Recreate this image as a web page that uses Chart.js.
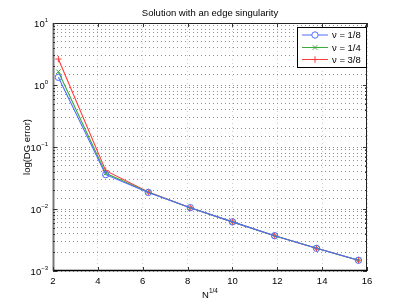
<!DOCTYPE html>
<html><head><meta charset="utf-8">
<script src="https://cdn.jsdelivr.net/npm/chart.js@4"></script>
<style>html,body{margin:0;padding:0;background:#fff}#wrap{width:407px;height:306px}</style>
</head><body><div id="wrap"><canvas id="c" width="407" height="306"></canvas></div>
<script>
const xValues = [2.24, 4.35, 6.25, 8.12, 10.0, 11.88, 13.75, 15.62];
const errNu18 = [1.33, 0.0358, 0.0185, 0.0105, 0.0062, 0.00371, 0.00232, 0.00149];
const errNu14 = [1.64, 0.0377, 0.0186, 0.0105, 0.0062, 0.00371, 0.00232, 0.00149];
const errNu38 = [2.62, 0.0415, 0.0188, 0.0105, 0.0062, 0.00371, 0.00232, 0.00149];
const seriesLabels = ['ν = 1/8', 'ν = 1/4', 'ν = 3/8'];
const xTicks = [2, 4, 6, 8, 10, 12, 14, 16];
const yDecades = [1, 0, -1, -2, -3];
const titleText = 'Solution with an edge singularity';

const FONT = '"Liberation Sans", Arial, sans-serif';
const colors = ['#4f6dff', '#3cab3c', '#ff3b3b'];
const styles = ['circle', 'crossRot', 'cross'];
const allSeries = [errNu18, errNu14, errNu38];

const datasets = allSeries.map((s, i) => ({
  label: seriesLabels[i],
  data: xValues.map((x, j) => ({x, y: s[j]})),
  borderColor: colors[i], backgroundColor: 'transparent',
  pointBorderColor: colors[i], pointBackgroundColor: 'transparent',
  pointStyle: styles[i], pointRadius: 3.2, pointBorderWidth: 1,
  borderWidth: 1.1, tension: 0
}));

const deco = {
  id: 'deco',
  afterDraw(chart) {
    const ctx = chart.ctx, a = chart.chartArea;
    const xs = chart.scales.x, ys = chart.scales.y;
    ctx.save();
    // box
    ctx.strokeStyle = '#222'; ctx.lineWidth = 1;
    ctx.strokeRect(a.left + 0.5, a.top + 0.5, a.right - a.left - 1, a.bottom - a.top - 1);
    ctx.strokeStyle = '#777'; ctx.lineWidth = 2;
    ctx.beginPath(); ctx.moveTo(a.left + 0.5, a.top); ctx.lineTo(a.left + 0.5, a.bottom); ctx.stroke();
    ctx.strokeStyle = '#000'; ctx.lineWidth = 1.5;
    ctx.beginPath(); ctx.moveTo(a.left, a.bottom - 0.5); ctx.lineTo(a.right, a.bottom - 0.5); ctx.stroke();
    // ticks
    ctx.strokeStyle = '#333'; ctx.lineWidth = 1;
    ctx.beginPath();
    xTicks.forEach(v => {
      const px = Math.round(xs.getPixelForValue(v)) + 0.5;
      ctx.moveTo(px, a.bottom); ctx.lineTo(px, a.bottom - 4);
      ctx.moveTo(px, a.top); ctx.lineTo(px, a.top + 4);
    });
    for (let d = -3; d < 1; d++) {
      for (let m = 1; m <= 9; m++) {
        const v = m * Math.pow(10, d);
        const py = Math.round(ys.getPixelForValue(v)) + 0.5;
        const len = m === 1 ? 4 : 2;
        ctx.moveTo(a.left, py); ctx.lineTo(a.left + len, py);
        ctx.moveTo(a.right, py); ctx.lineTo(a.right - len, py);
      }
    }
    ctx.stroke();
    // x tick labels
    ctx.fillStyle = '#000';
    ctx.font = '9.5px ' + FONT;
    ctx.textAlign = 'center'; ctx.textBaseline = 'top';
    xTicks.forEach(v => ctx.fillText(String(v), xs.getPixelForValue(v), a.bottom + 6));
    // y tick labels 10^n
    yDecades.forEach(d => {
      const py = ys.getPixelForValue(Math.pow(10, d));
      const exp = d < 0 ? '−' + (-d) : String(d);
      ctx.font = '6px ' + FONT;
      const ew = ctx.measureText(exp).width;
      ctx.textAlign = 'left'; ctx.textBaseline = 'alphabetic';
      const right = a.left - 5;
      ctx.fillText(exp, right - ew, py - 1);
      ctx.font = '9.5px ' + FONT;
      ctx.textAlign = 'right';
      ctx.fillText('10', right - ew, py + 4);
    });
    // title
    ctx.font = '9.5px ' + FONT;
    ctx.textAlign = 'center'; ctx.textBaseline = 'alphabetic';
    ctx.fillText(titleText, (a.left + a.right) / 2, 16);
    // x title N^1/4
    const cx = (a.left + a.right) / 2;
    ctx.font = '9.5px ' + FONT;
    const nw = ctx.measureText('N').width;
    ctx.font = '6.5px ' + FONT;
    const sw = ctx.measureText('1/4').width;
    const start = cx - (nw + sw) / 2;
    ctx.textAlign = 'left';
    ctx.font = '9.5px ' + FONT;
    ctx.fillText('N', start, 298);
    ctx.font = '6.5px ' + FONT;
    ctx.fillText('1/4', start + nw, 293);
    // y title
    ctx.save();
    ctx.translate(27, (a.top + a.bottom) / 2);
    ctx.rotate(-Math.PI / 2);
    ctx.font = '9.5px ' + FONT; ctx.textAlign = 'center'; ctx.textBaseline = 'middle';
    ctx.fillText('log(DG error)', 0, 0);
    ctx.restore();
    // legend
    const lx = 297, ly = 27, lw = 70, lh = 41;
    ctx.fillStyle = '#fff';
    ctx.fillRect(lx, ly, lw, lh);
    ctx.strokeStyle = '#000'; ctx.lineWidth = 1;
    ctx.strokeRect(lx + 0.5, ly + 0.5, lw - 1, lh - 1);
    const rows = [35, 47.5, 59.5];
    rows.forEach((ry, i) => {
      ctx.strokeStyle = colors[i]; ctx.lineWidth = 1;
      ctx.beginPath(); ctx.moveTo(302, ry); ctx.lineTo(328, ry); ctx.stroke();
      Chart.helpers.drawPoint(ctx, {pointStyle: styles[i], radius: 3.2, borderWidth: 1}, 315, ry);
      ctx.fillStyle = '#000';
      ctx.font = '9.5px ' + FONT; ctx.textAlign = 'left'; ctx.textBaseline = 'middle';
      ctx.fillText(seriesLabels[i], 332, ry + 0.5);
    });
    ctx.restore();
  }
};

new Chart(document.getElementById('c'), {
  type: 'line',
  data: {datasets},
  options: {
    responsive: false, animation: false, devicePixelRatio: 1,
    layout: {padding: {left: 53, right: 40, top: 23, bottom: 35}},
    plugins: {legend: {display: false}, tooltip: {enabled: false}, title: {display: false}},
    scales: {
      x: {
        type: 'linear', min: 2, max: 16,
        ticks: {display: false, stepSize: 2},
        grid: {color: '#cfcfcf', lineWidth: 1, drawTicks: false},
        border: {display: false, dash: [1, 3]}
      },
      y: {
        type: 'logarithmic', min: 0.001, max: 10,
        ticks: {display: false},
        grid: {color: '#8e8e8e', lineWidth: 1, drawTicks: false},
        border: {display: false, dash: [1, 3]}
      }
    }
  },
  plugins: [deco]
});
</script></body></html>
